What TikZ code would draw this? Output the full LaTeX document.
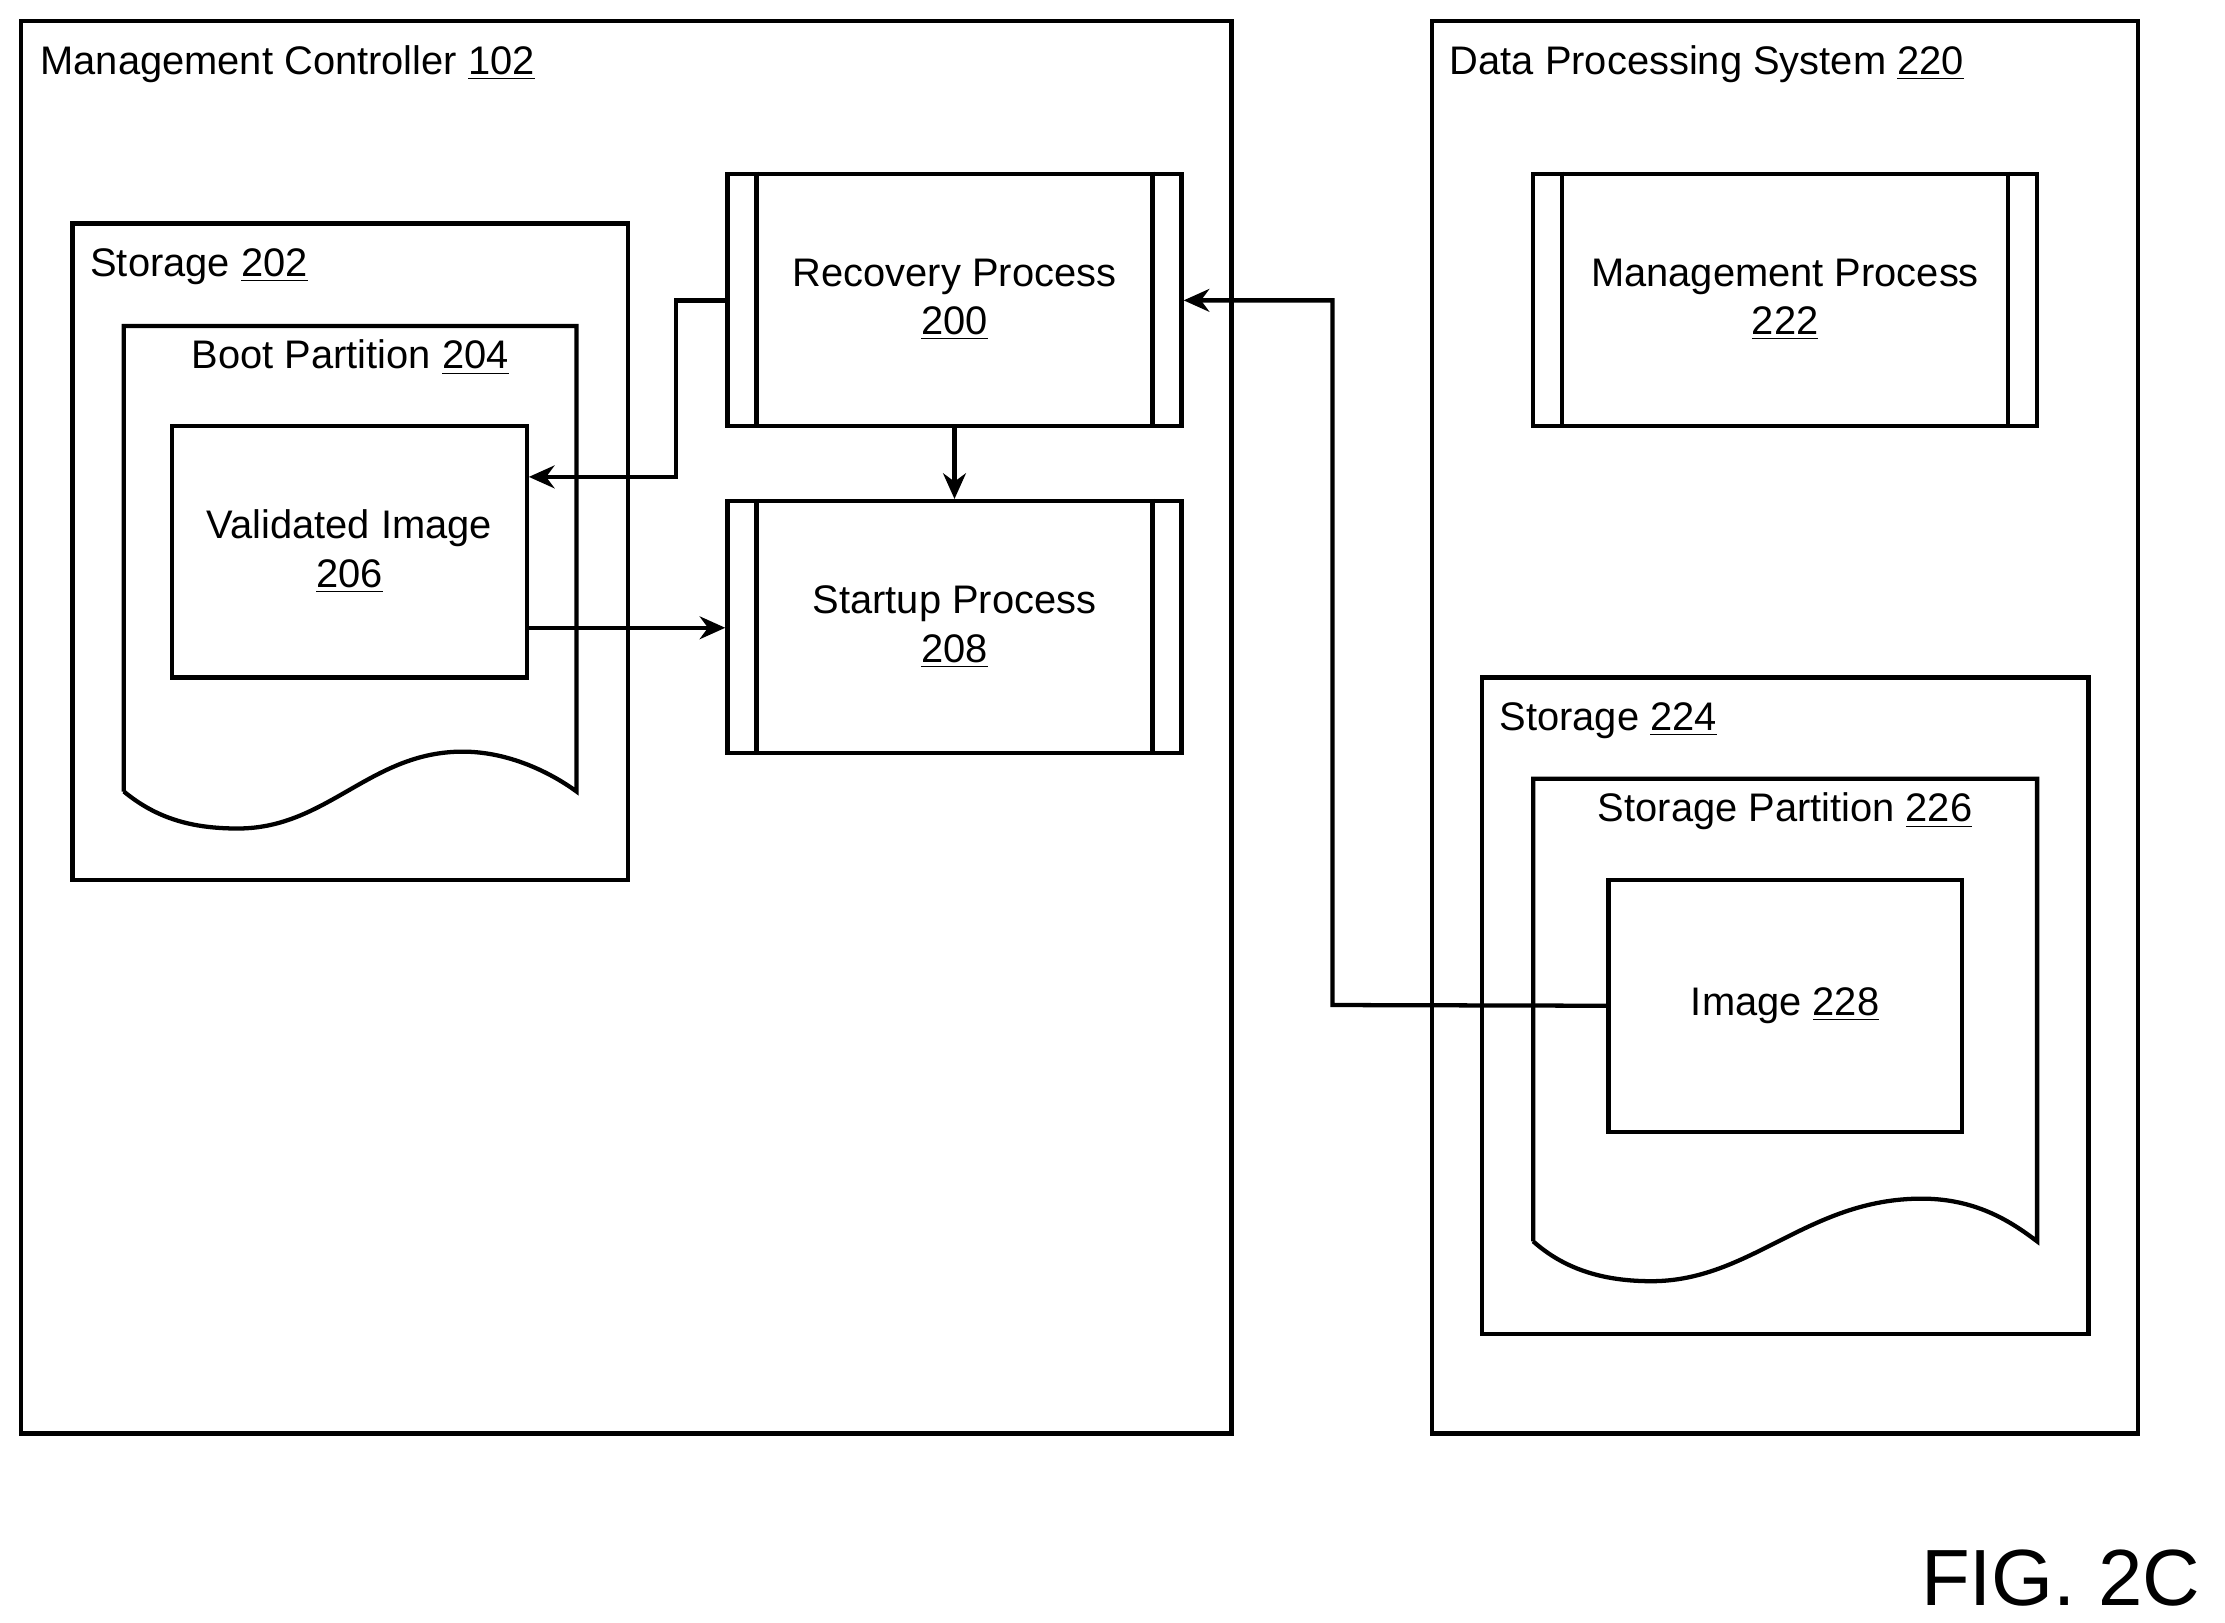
\documentclass[tikz,border=0pt]{standalone}
\usepackage{fontspec}
\setmainfont{Liberation Sans}
\usetikzlibrary{calc,arrows.meta}
\begin{document}
\begin{tikzpicture}[x=0.5pt,y=-0.5pt,
  every node/.style={font=\fontsize{14}{17}\selectfont},
  box/.style={draw,line width=1.5pt,inner sep=0pt,align=center},
  lbl/.style={inner sep=0pt,anchor=base west},
  conn/.style={line width=1.5pt,-{Stealth[length=9pt,width=8pt]}},
  line width=1.5pt]
\useasboundingbox (0,0) rectangle (1563,1140);
% containers
\node[box,minimum width=425pt,minimum height=496pt] (mc) at (440,511) {};
\node[lbl] (mcl) at (27,52) {Management Controller \underline{102}};
\node[box,minimum width=248pt,minimum height=496pt] (dps) at (1254,511) {};
\node[lbl] (dpsl) at (1017,52) {Data Processing System \underline{220}};
\node[box,minimum width=195pt,minimum height=230.5pt] (s202) at (246,387.5) {};
\node[lbl] (s202l) at (62,194) {Storage \underline{202}};
\node[box,minimum width=213pt,minimum height=230.5pt] (s224) at (1254,706.5) {};
\node[lbl] (s224l) at (1052,513) {Storage \underline{224}};
% document shapes
\draw (87,556) -- (87,229) -- (405,229) -- (405,556)
  .. controls (390,545) and (360,528) .. (325,528)
  .. controls (260,528) and (230,582) .. (167,582)
  .. controls (135,582) and (110,575) .. (87,556);
\node (bp) at (246,251) {Boot Partition \underline{204}};
\draw (1077,872) -- (1077,547) -- (1431,547) -- (1431,872)
  .. controls (1415,860) and (1390,842) .. (1350,842)
  .. controls (1270,842) and (1230,900) .. (1160,900)
  .. controls (1120,900) and (1095,888) .. (1077,872);
\node (sp) at (1254,570) {Storage Partition \underline{226}};
% inner boxes
\node[box,minimum width=124.5pt,minimum height=88.5pt] (vi) at (245.5,387.5) {Validated Image\\\underline{206}};
\node[box,minimum width=124pt,minimum height=88.5pt] (img) at (1254,706.5) {Image \underline{228}};
% processes
\node[box,minimum width=159.5pt,minimum height=88.5pt] (rp) at (670.5,210.5) {Recovery Process\\\underline{200}};
\node[box,minimum width=159.5pt,minimum height=88.5pt] (st) at (670.5,440.5) {Startup Process\\\underline{208}};
\node[box,minimum width=177pt,minimum height=88.5pt] (mp) at (1254,210.5) {Management Process\\\underline{222}};
\foreach \n in {rp,st,mp}{
  \draw ($(\n.north west)+(11pt,0)$) -- ($(\n.south west)+(11pt,0)$);
  \draw ($(\n.north east)+(-11pt,0)$) -- ($(\n.south east)+(-11pt,0)$);
}
% connectors
\coordinate (c1) at (475,211);
\coordinate (c2) at (475,335);
\draw[conn] (rp.west |- c1) -- (c1) -- (c2) -- (vi.east |- c2);
\draw[conn] (vi.east |- 0,441) -- (st.west |- 0,441);
\draw[conn] (rp.south) -- (st.north);
\coordinate (c3) at (936,706);
\coordinate (c4) at (936,211);
\draw[conn] (img.west) -- (c3) -- (c4) -- (rp.east |- c4);
\node[lbl,font=\fontsize{28}{32}\selectfont] (fig) at (1348,1128) {FIG. 2C};
\end{tikzpicture}
\end{document}
